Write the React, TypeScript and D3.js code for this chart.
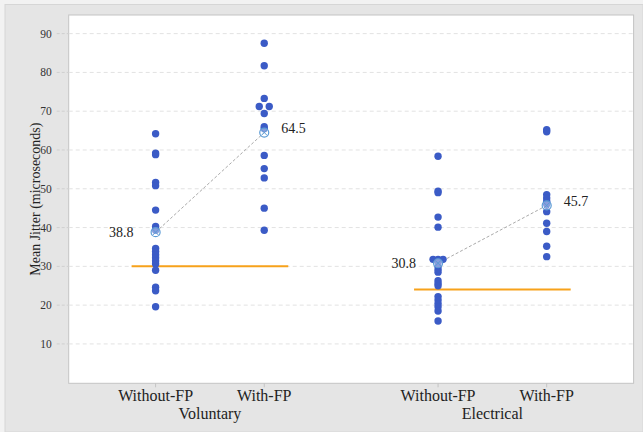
import * as d3 from 'd3';

// categories (x) and groups
const categories = ['Without-FP', 'With-FP', 'Without-FP', 'With-FP'];
const groups = ['Voluntary', 'Electrical'];
const groupOf = [0, 0, 1, 1];
const catPos = [0, 1, 2.6, 3.6];

// individual jitter values, one array per category
const volWithout = [64.2, 59.2, 58.8, 51.6, 50.8, 44.5, 40.3, 39.3, 34.6, 33.8, 33.0, 32.2, 31.4, 30.6, 29.0, 24.6, 23.7, 19.6];
const volWith = [87.5, 81.7, 73.3, 71.2, 71.2, 69.4, 66.0, 65.5, 58.6, 55.2, 52.8, 45.0, 39.3];
const elecWithout = [58.4, 49.4, 49.0, 42.7, 40.1, 31.8, 31.8, 31.8, 31.0, 30.0, 29.2, 28.5, 26.3, 25.6, 25.0, 22.2, 21.3, 20.4, 19.6, 18.5, 15.9];
const elecWith = [65.2, 64.7, 48.5, 47.6, 46.8, 46.0, 44.1, 41.1, 39.0, 35.2, 32.5];
const seriesValues = [volWithout, volWith, elecWithout, elecWith];

// mean values shown on chart
const means = [38.8, 64.5, 30.8, 45.7];
// reference line per group
const refValues = [30, 24];

const yTicks = [10, 20, 30, 40, 50, 60, 70, 80, 90];

const W = 643;
const H = 432;
const plot = { left: 68.7, top: 15, right: 633.6, bottom: 383.3 };
const serif = 'Liberation Serif, DejaVu Serif, Times New Roman, serif';
const dotColor = '#3b5bc6';
const meanColor = '#5b9bd5';

export default function App() {
  const x = d3.scaleLinear().domain([-0.8, 4.4]).range([plot.left, plot.right]);
  const y = d3.scaleLinear().domain([-0.15, 94.8]).range([plot.bottom, plot.top]);

  // dodge identical values horizontally
  const dots: { cx: number; cy: number }[] = [];
  seriesValues.forEach((vals, ci) => {
    const byVal = d3.group(vals, v => v);
    byVal.forEach((arr, v) => {
      const n = arr.length;
      arr.forEach((_, i) => {
        const off = n > 1 ? -5 + (10 * i) / (n - 1) : 0;
        dots.push({ cx: x(catPos[ci]) + off, cy: y(v) });
      });
    });
  });

  const meanPts = means.map((m, i) => ({ cx: x(catPos[i]), cy: y(m), v: m, i }));

  return (
    <>
      <style>{'body{margin:0}'}</style>
      <svg width={W} height={H} style={{ display: 'block', fontFamily: serif }}>
        <rect x={0} y={0} width={W} height={H} fill="#f2f2f2" />
        <rect x={5} y={4.5} width={W - 5} height={H - 4.5} fill="#e5e5e5" stroke="#d6d6d6" />
        <rect
          x={plot.left}
          y={plot.top}
          width={plot.right - plot.left}
          height={plot.bottom - plot.top}
          fill="#ffffff"
          stroke="#c4c4c4"
        />

        {/* y grid and ticks */}
        {yTicks.map(t => (
          <g key={t}>
            <line x1={plot.left} x2={plot.right} y1={y(t)} y2={y(t)} stroke="#e2e2e2" strokeDasharray="4,3" />
            <line x1={plot.left - 12} x2={plot.left} y1={y(t)} y2={y(t)} stroke="#cfcfcf" strokeDasharray="3,2" />
            <text x={plot.left - 17} y={y(t)} dy="0.35em" textAnchor="end" fontFamily={serif} fontSize={11.5} fill="#333">
              {t}
            </text>
          </g>
        ))}

        <text
          transform={`translate(35,${(plot.top + plot.bottom) / 2}) rotate(-90)`}
          textAnchor="middle"
          dy="0.35em"
          fontFamily={serif}
          fontSize={14}
          fill="#222"
        >
          Mean Jitter (microseconds)
        </text>

        {/* x ticks and labels */}
        {categories.map((c, i) => (
          <g key={i}>
            <line x1={x(catPos[i])} x2={x(catPos[i])} y1={plot.bottom} y2={plot.bottom + 4} stroke="#c4c4c4" />
            <text x={x(catPos[i])} y={401} textAnchor="middle" fontFamily={serif} fontSize={16} fill="#222">
              {c}
            </text>
          </g>
        ))}
        {groups.map((g, gi) => {
          const idx = groupOf.map((gg, i) => (gg === gi ? i : -1)).filter(i => i >= 0);
          const cx = d3.mean(idx, i => x(catPos[i])) as number;
          return (
            <text key={g} x={cx} y={419} textAnchor="middle" fontFamily={serif} fontSize={16} fill="#222">
              {g}
            </text>
          );
        })}

        {/* mean connection lines */}
        {groups.map((g, gi) => {
          const pts = meanPts.filter(p => groupOf[p.i] === gi);
          const line = d3.line<{ cx: number; cy: number }>().x(p => p.cx).y(p => p.cy);
          return <path key={g} d={line(pts) || ''} fill="none" stroke="#aaa" strokeDasharray="3,2" strokeWidth={1} />;
        })}

        {/* reference lines */}
        {refValues.map((r, gi) => {
          const idx = groupOf.map((gg, i) => (gg === gi ? i : -1)).filter(i => i >= 0);
          const x1 = x(catPos[idx[0]]) - 24;
          const x2 = x(catPos[idx[idx.length - 1]]) + 24;
          return <line key={gi} x1={x1} x2={x2} y1={y(r)} y2={y(r)} stroke="#f7a21b" strokeWidth={2} />;
        })}

        {/* individual dots */}
        {dots.map((d, i) => (
          <circle key={i} cx={d.cx} cy={d.cy} r={3.7} fill={dotColor} />
        ))}

        {/* mean markers */}
        {meanPts.map(p => (
          <g key={p.i}>
            <circle cx={p.cx} cy={p.cy} r={4.5} fill="rgba(255,255,255,0.4)" stroke={meanColor} strokeWidth={1.2} />
            <path
              d={`M${p.cx - 3},${p.cy - 3}L${p.cx + 3},${p.cy + 3}M${p.cx - 3},${p.cy + 3}L${p.cx + 3},${p.cy - 3}`}
              stroke={meanColor}
              strokeWidth={1}
            />
            <text
              x={p.i % 2 === 0 ? p.cx - 22 : p.cx + 17}
              y={p.i % 2 === 0 ? p.cy : p.cy - 4}
              dy="0.35em"
              textAnchor={p.i % 2 === 0 ? 'end' : 'start'}
              fontFamily={serif}
              fontSize={14}
              fill="#222"
            >
              {p.v.toFixed(1)}
            </text>
          </g>
        ))}
      </svg>
    </>
  );
}
